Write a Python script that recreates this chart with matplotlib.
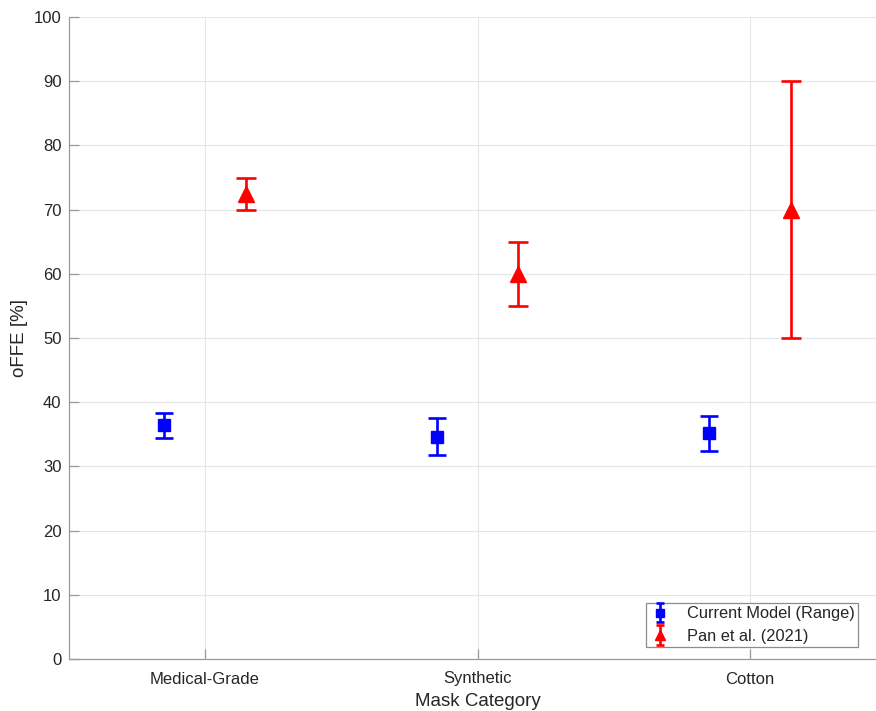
import matplotlib
matplotlib.use("Agg")
import matplotlib.pyplot as plt
from matplotlib.container import ErrorbarContainer
from matplotlib.legend_handler import HandlerErrorbar
from matplotlib.lines import Line2D
import numpy as np

plt.rcParams["font.family"] = ["Liberation Sans", "DejaVu Sans"]

categories = ["Medical-Grade", "Synthetic", "Cotton"]

# current model: central estimate and range
model_mid = [36.4, 34.6, 35.2]
model_lo = [34.5, 31.7, 32.4]
model_hi = [38.3, 37.5, 37.9]

# Pan et al. (2021) reported values
pan_mid = [72.5, 60.0, 70.0]
pan_lo = [70.0, 55.0, 50.0]
pan_hi = [75.0, 65.0, 90.0]

TEXT = "#262626"
AXIS = "#9a9a9a"


class SmallCapErrorbar(HandlerErrorbar):
    """Errorbar legend entry with short caps."""
    def create_artists(self, *args, **kwargs):
        artists = super().create_artists(*args, **kwargs)
        for a in artists:
            if isinstance(a, Line2D) and a.get_marker() == "_":
                a.set_markersize(6)
        return artists


fig = plt.figure(figsize=(8.76, 7.11), dpi=100)
ax = fig.add_axes([68.5 / 876, 52 / 711, 818 / 876, 642 / 711])

x = np.arange(1, len(categories) + 1)
off = 0.15

m_mid = np.array(model_mid)
ax.errorbar(x - off, m_mid,
            yerr=[m_mid - np.array(model_lo), np.array(model_hi) - m_mid],
            fmt="s", color="blue", markersize=8.5, elinewidth=1.9,
            capsize=6.8, capthick=1.9, label="Current Model (Range)")

p_mid = np.array(pan_mid)
ax.errorbar(x + off, p_mid,
            yerr=[p_mid - np.array(pan_lo), np.array(pan_hi) - p_mid],
            fmt="^", color="red", markersize=11, elinewidth=1.9,
            capsize=7.2, capthick=1.9, label="Pan et al. (2021)")

ax.set_xlim(0.5, 3.5)
ax.set_ylim(0, 100)
ax.set_xticks(x)
ax.set_xticklabels(categories)
ax.set_yticks(np.arange(0, 101, 10))
ax.grid(True, color="#e6e6e6", linewidth=0.8)
ax.set_axisbelow(True)

for side in ["top", "right"]:
    ax.spines[side].set_visible(False)
for side in ["left", "bottom"]:
    ax.spines[side].set_color(AXIS)
    ax.spines[side].set_linewidth(0.9)
ax.tick_params(direction="in", length=7, width=0.9, color=AXIS,
               labelsize=12, labelcolor=TEXT)
ax.tick_params(axis="x", pad=9)
ax.tick_params(axis="y", pad=5)

ax.set_xlabel("Mask Category", fontsize=13.5, color=TEXT, labelpad=5)
ax.set_ylabel("oFFE [%]", fontsize=13.5, color=TEXT, labelpad=4)

leg = fig.legend(loc="lower right", bbox_to_anchor=(858 / 876, (711 - 647) / 711),
                 fontsize=11.8, frameon=True, fancybox=False, framealpha=1,
                 borderpad=0.2, handletextpad=1.0, labelspacing=0.45,
                 handlelength=1.3, borderaxespad=0, markerscale=0.7,
                 handler_map={ErrorbarContainer: SmallCapErrorbar(yerr_size=0.6)})
leg.get_frame().set_edgecolor("#8c8c8c")
leg.get_frame().set_linewidth(0.9)
for t in leg.get_texts():
    t.set_color(TEXT)

fig.savefig("out.png", dpi=100)
